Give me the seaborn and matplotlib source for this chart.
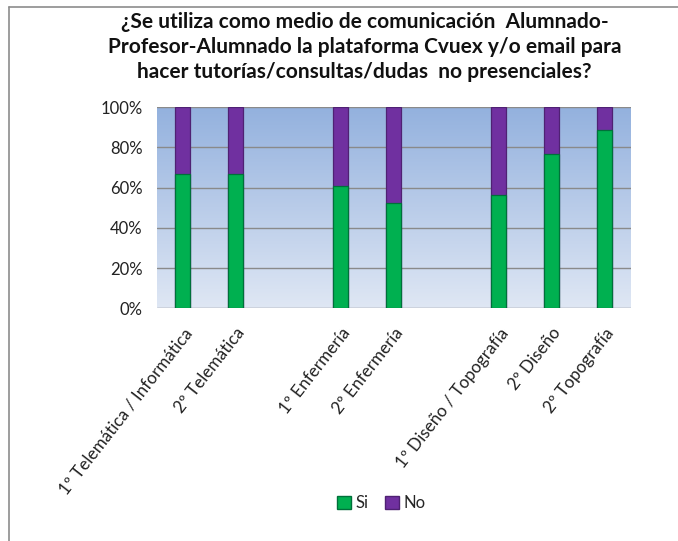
import numpy as np
import pandas as pd
import matplotlib
matplotlib.use("Agg")
import matplotlib.pyplot as plt
from matplotlib.lines import Line2D
from matplotlib.patches import Patch
import seaborn as sns

# ---- data ----
categories = ["1º Telemática / Informática", "2º Telemática", " ",
              "1º Enfermería", "2º Enfermería", "  ",
              "1º Diseño / Topografía", "2º Diseño", "2º Topografía"]
tick_labels = ["1º Telemática / Informática", "2º Telemática", "",
               "1º Enfermería", "2º Enfermería", "",
               "1º Diseño / Topografía", "2º Diseño", "2º Topografía"]
si_values = [66.7, 66.7, np.nan, 60.8, 52.6, np.nan, 56.4, 76.9, 88.7]
no_values = [33.3, 33.3, np.nan, 39.2, 47.4, np.nan, 43.6, 23.1, 11.3]
yticks = [0, 20, 40, 60, 80, 100]
title = ("¿Se utiliza como medio de comunicación  Alumnado-\n"
         "Profesor-Alumnado la plataforma Cvuex y/o email para\n"
         "hacer tutorías/consultas/dudas  no presenciales?")

df = pd.DataFrame({"cat": categories, "Si": si_values, "No": no_values})
df["total"] = df["Si"] + df["No"]

sns.set_theme(style="white")
plt.rcParams["font.family"] = ["Lato", "DejaVu Sans"]

fig = plt.figure(figsize=(6.78, 5.41), dpi=100)
fig.patch.set_facecolor("white")
ax = fig.add_axes([0.231, 0.430, 0.699, 0.3717])

# gradient background
grad = np.linspace(0, 1, 256).reshape(-1, 1)
top = np.array([0x93, 0xB1, 0xDE]) / 255
bot = np.array([0xDF, 0xE7, 0xF4]) / 255
img = top[None, None, :] * (1 - grad[:, :, None]) + bot[None, None, :] * grad[:, :, None]
ax.imshow(img, extent=[-0.5, 8.5, 0, 100], aspect="auto", zorder=0, origin="upper")

sns.barplot(data=df, x="cat", y="total", order=categories, color="#7030A0",
            width=0.285, edgecolor="#4F2173", linewidth=0.9, saturation=1,
            errorbar=None, ax=ax, zorder=3)
sns.barplot(data=df, x="cat", y="Si", order=categories, color="#00B050",
            width=0.285, edgecolor="#00703A", linewidth=0.9, saturation=1,
            errorbar=None, ax=ax, zorder=4)

ax.set_xlim(-0.5, 8.5)
ax.set_ylim(0, 100)
ax.set_yticks(yticks)
ax.set_yticklabels([f"{v}%" for v in yticks], fontsize=12, color="#222222")
ax.set_xticks(range(len(categories)))
ax.set_xticklabels(tick_labels, rotation=52, ha="right", va="top",
                   rotation_mode="anchor", fontsize=12.3, color="#222222")
ax.tick_params(axis="y", length=0, pad=10)
ax.tick_params(axis="x", length=0, pad=12)
ax.set_xlabel("")
ax.set_ylabel("")
for y in yticks:
    ax.axhline(y, color="#8A8A8A", linewidth=1.0, zorder=2)
for s in ax.spines.values():
    s.set_visible(False)

fig.text(0.538, 0.913, title, ha="center", va="center", fontsize=15,
         fontweight="bold", linespacing=1.3, color="#111111")

handles = [Patch(facecolor="#00B050", edgecolor="#00703A", label="Si"),
           Patch(facecolor="#7030A0", edgecolor="#4F2173", label="No")]
fig.legend(handles=handles, loc="center", bbox_to_anchor=(0.563, 0.070),
           ncol=2, frameon=False, fontsize=12, handlelength=0.8,
           handleheight=0.8, handletextpad=0.3, columnspacing=1.0)

# chart frame (left and top edges)
fig.add_artist(Line2D([9 / 678, 9 / 678], [0, 1 - 7 / 541],
                      transform=fig.transFigure, color="#8C8C8C", linewidth=1.2))
fig.add_artist(Line2D([9 / 678, 1], [1 - 7 / 541, 1 - 7 / 541],
                      transform=fig.transFigure, color="#8C8C8C", linewidth=1.2))

fig.savefig("out.png", dpi=100)
